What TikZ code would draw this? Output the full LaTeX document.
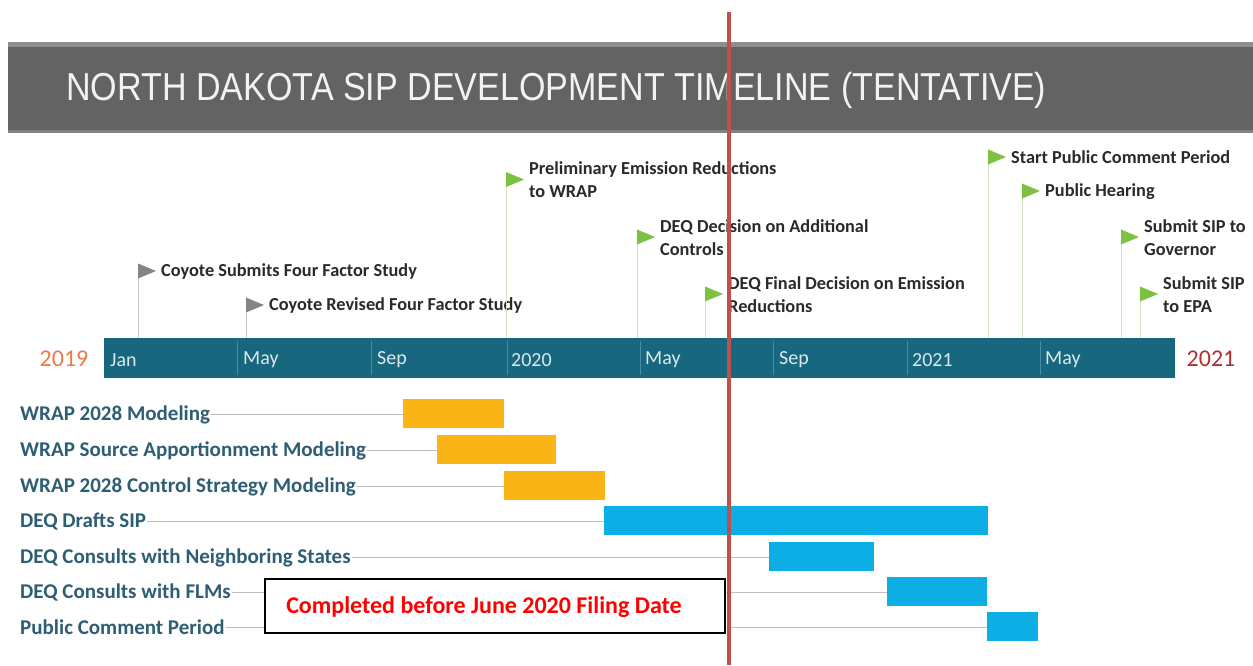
\documentclass[tikz,border=0pt]{standalone}
\usepackage{fontspec}
\usepackage{graphicx}
\setmainfont{Carlito}
\newfontfamily\headfont{Liberation Sans}

\definecolor{headgray}{HTML}{636363}
\definecolor{headedge}{HTML}{8E8E8E}
\definecolor{axisteal}{HTML}{17687F}
\definecolor{axissep}{HTML}{4A8EA6}
\definecolor{monthtxt}{HTML}{DCE8EE}
\definecolor{flaggreen}{HTML}{7CC142}
\definecolor{flaggray}{HTML}{858585}
\definecolor{poleg}{HTML}{CFE3C0}
\definecolor{polegray}{HTML}{C8C8C8}
\definecolor{mstxt}{HTML}{2A2A2A}
\definecolor{tasktxt}{HTML}{2E5E74}
\definecolor{amber}{HTML}{FBB416}
\definecolor{skyblue}{HTML}{0DAEE6}
\definecolor{leadgray}{HTML}{BDBDBD}
\definecolor{todayred}{HTML}{C0504D}
\definecolor{yearorange}{HTML}{EC7A48}
\definecolor{yearred}{HTML}{B0302E}

\begin{document}
\begin{tikzpicture}[x=1pt,y=-1pt,
  monthlbl/.style={anchor=west,inner sep=0pt,text=monthtxt,font=\fontsize{20}{20}\selectfont},
  yearlbl/.style={inner sep=0pt,font=\fontsize{24}{24}\selectfont},
  mstext/.style={anchor=west,inner sep=0pt,align=left,text=mstxt,font=\fontsize{18.3}{23}\selectfont\bfseries},
  tasklbl/.style={anchor=west,inner sep=1pt,text=tasktxt,font=\fontsize{21}{21}\selectfont\bfseries},
  taskbar/.style={anchor=west,inner sep=0pt,outer sep=0pt,minimum height=29pt,draw=none},
  leader/.style={draw=leadgray,line width=1.3pt},
  todayline/.style={draw=todayred,line width=4pt}]

\useasboundingbox (0,0) rectangle (1253,665);
\fill[white] (0,0) rectangle (1253,665);

% heading band
\fill[headgray] (8,42) rectangle (1253,133);
\fill[headedge] (8,42) rectangle (1253,47);
\fill[headedge!70!headgray] (8,130) rectangle (1253,133);
\node[anchor=west,inner sep=0pt,text=white!95!black] (title) at (66,90)
  {\resizebox{980pt}{\height}{\headfont\fontsize{39}{39}\selectfont NORTH DAKOTA SIP DEVELOPMENT TIMELINE (TENTATIVE)}};

% time axis
\node[anchor=west,fill=axisteal,minimum width=1071pt,minimum height=40pt,inner sep=0pt,outer sep=0pt] (axis) at (104,358) {};
\foreach \sx in {237,371,507,640,773,907,1040}
  \draw[axissep,line width=0.8pt] (\sx,341) -- (\sx,375);
\foreach \k/\mx/\lab in {1/110/Jan,2/243/May,3/377/Sep,4/511/2020,5/645/May,6/779/Sep,7/912/2021,8/1045/May}
  \node[monthlbl] (mo\k) at (\mx,360) {\lab};
\node[yearlbl,text=yearorange] (y2019) at (64,359) {2019};
\node[yearlbl,text=yearred] (y2021) at (1211,359) {2021};

% milestones: pole, flag and caption
\foreach \i/\x/\y/\fc/\pc/\t in {
  1/138/263.5/flaggray/polegray/{Coyote Submits Four Factor Study},
  2/246/297.5/flaggray/polegray/{Coyote Revised Four Factor Study},
  3/506/172/flaggreen/poleg/{Preliminary Emission Reductions\\to WRAP},
  4/637/229.5/flaggreen/poleg/{DEQ Decision on Additional\\Controls},
  5/705/286.5/flaggreen/poleg/{DEQ Final Decision on Emission\\Reductions},
  6/988/149.5/flaggreen/poleg/{Start Public Comment Period},
  7/1022/183.5/flaggreen/poleg/{Public Hearing},
  8/1121/229.5/flaggreen/poleg/{Submit SIP to\\Governor},
  9/1140/286.5/flaggreen/poleg/{Submit SIP\\to EPA}} {
  \coordinate (f\i) at (\x,\y);
  \draw[\pc,line width=1pt] (f\i) -- (f\i |- axis.north);
  \fill[\fc] (f\i) -- ++(18,7.5) -- ++(-18,7.5) -- cycle;
  \node[mstext] (m\i) at ([shift={(23,8)}]f\i) {\t};
}

% task rows
\foreach \i/\yc/\xa/\xb/\bc/\t in {
  1/413/403/504/amber/{WRAP 2028 Modeling},
  2/449/437/556/amber/{WRAP Source Apportionment Modeling},
  3/485/504/605/amber/{WRAP 2028 Control Strategy Modeling},
  4/520/604/988/skyblue/{DEQ Drafts SIP},
  5/556/769/874/skyblue/{DEQ Consults with Neighboring States},
  6/591/887/987/skyblue/{DEQ Consults with FLMs},
  7/626/987/1038/skyblue/{Public Comment Period}} {
  \node[tasklbl] (t\i) at (19,\yc+1.5) {\t};
  \pgfmathsetmacro{\bw}{\xb-\xa}
  \node[taskbar,fill=\bc,minimum width=\bw pt] (b\i) at (\xa,\yc) {};
  \draw[leader] (t\i.east) -- (t\i.east -| b\i.west);
}

% note box
\node[draw=black,line width=2pt,fill=white,minimum width=460pt,minimum height=54pt,inner sep=0pt,outer sep=0pt] (note) at (495,606) {};
\node[text=red,font=\fontsize{24}{24}\selectfont\bfseries,inner sep=0pt] (notetxt) at ([shift={(-11,1)}]note.center)
  {Completed before June 2020 Filing Date};

% current-date marker
\coordinate (rt) at (729,12);
\coordinate (rb) at (729,665);
\draw[todayline] (rt) -- (rb);

\end{tikzpicture}
\end{document}
